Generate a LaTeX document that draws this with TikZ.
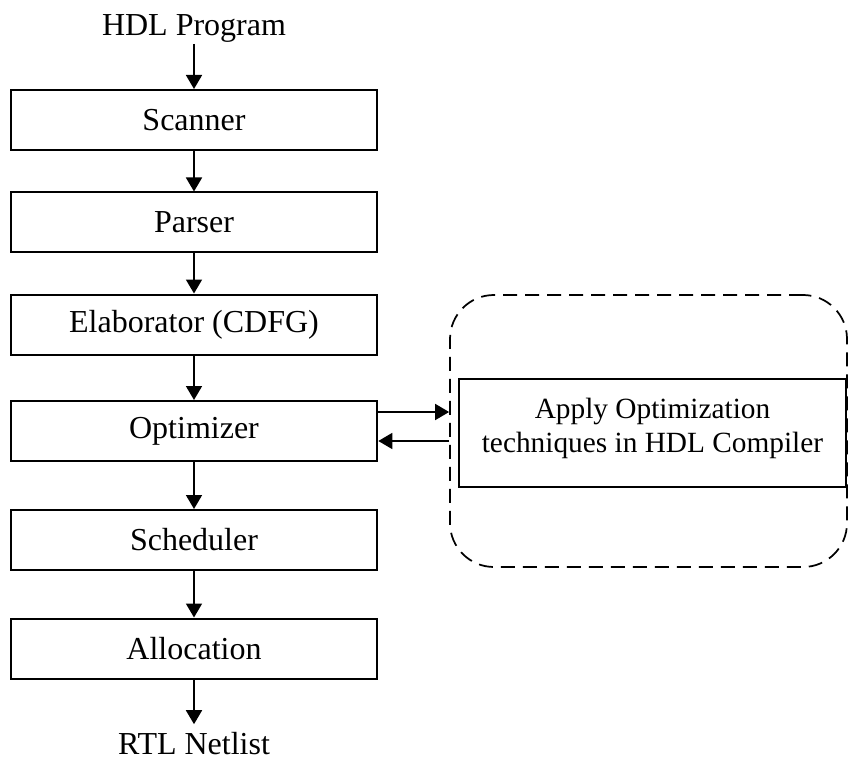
\documentclass[tikz,border=0pt]{standalone}
\usepackage{fontspec}
\setmainfont{Liberation Serif}
\usetikzlibrary{arrows.meta}
\begin{document}
\begin{tikzpicture}[
  x=0.75pt, y=-0.75pt,
  every node/.style={font=\fontsize{24}{28}\selectfont},
  % pipeline stages share one size:
  stage/.style={draw, line width=1.5pt, minimum width=275pt, minimum height=45pt, inner sep=0pt},
  label/.style={draw=none, inner sep=0.5pt, anchor=base},
  group/.style={draw, dashed, dash pattern=on 10.5pt off 6pt, line width=1.3pt,
    rounded corners=33pt, minimum width=297.75pt, minimum height=204pt},
  task/.style={draw, line width=1.5pt, minimum width=290pt, minimum height=81pt,
    align=center, text depth=12pt, font=\fontsize{22}{25.5}\selectfont},
  flow/.style={line width=1.3pt, -{Triangle[length=10.5pt,width=12pt]}}
]
\useasboundingbox (0,0) rectangle (849,759);
\node[label] (hdl) at (194,36) {HDL Program};
\node[stage] (scan) at (194,120) {Scanner};
\node[stage] (pars) at (194,222.5) {Parser};
\node[stage] (elab) at (194,324.5) {Elaborator (CDFG)};
\node[stage] (opt) at (194,431) {Optimizer};
\node[stage] (sched) at (194,540) {Scheduler};
\node[stage] (alloc) at (194,648.5) {Allocation};
\node[label] (rtl) at (194,754) {RTL Netlist};
\node[group] (grp) at (648.5,431) {};
\node[task] (apply) at (652.5,433) {Apply Optimization\\techniques in HDL Compiler};

\draw[flow] (hdl.south) -- (scan.north);
\draw[flow] (scan) -- (pars);
\draw[flow] (pars) -- (elab);
\draw[flow] (elab) -- (opt);
\draw[flow] (opt) -- (sched);
\draw[flow] (sched) -- (alloc);
\draw[flow, shorten >=5pt] (alloc) -- (rtl.north);
\draw[flow] ([yshift=14.25pt]opt.east) -- ([yshift=14.25pt]grp.west);
\draw[flow] ([yshift=-7.5pt]grp.west) -- ([yshift=-7.5pt]opt.east);
\end{tikzpicture}
\end{document}
